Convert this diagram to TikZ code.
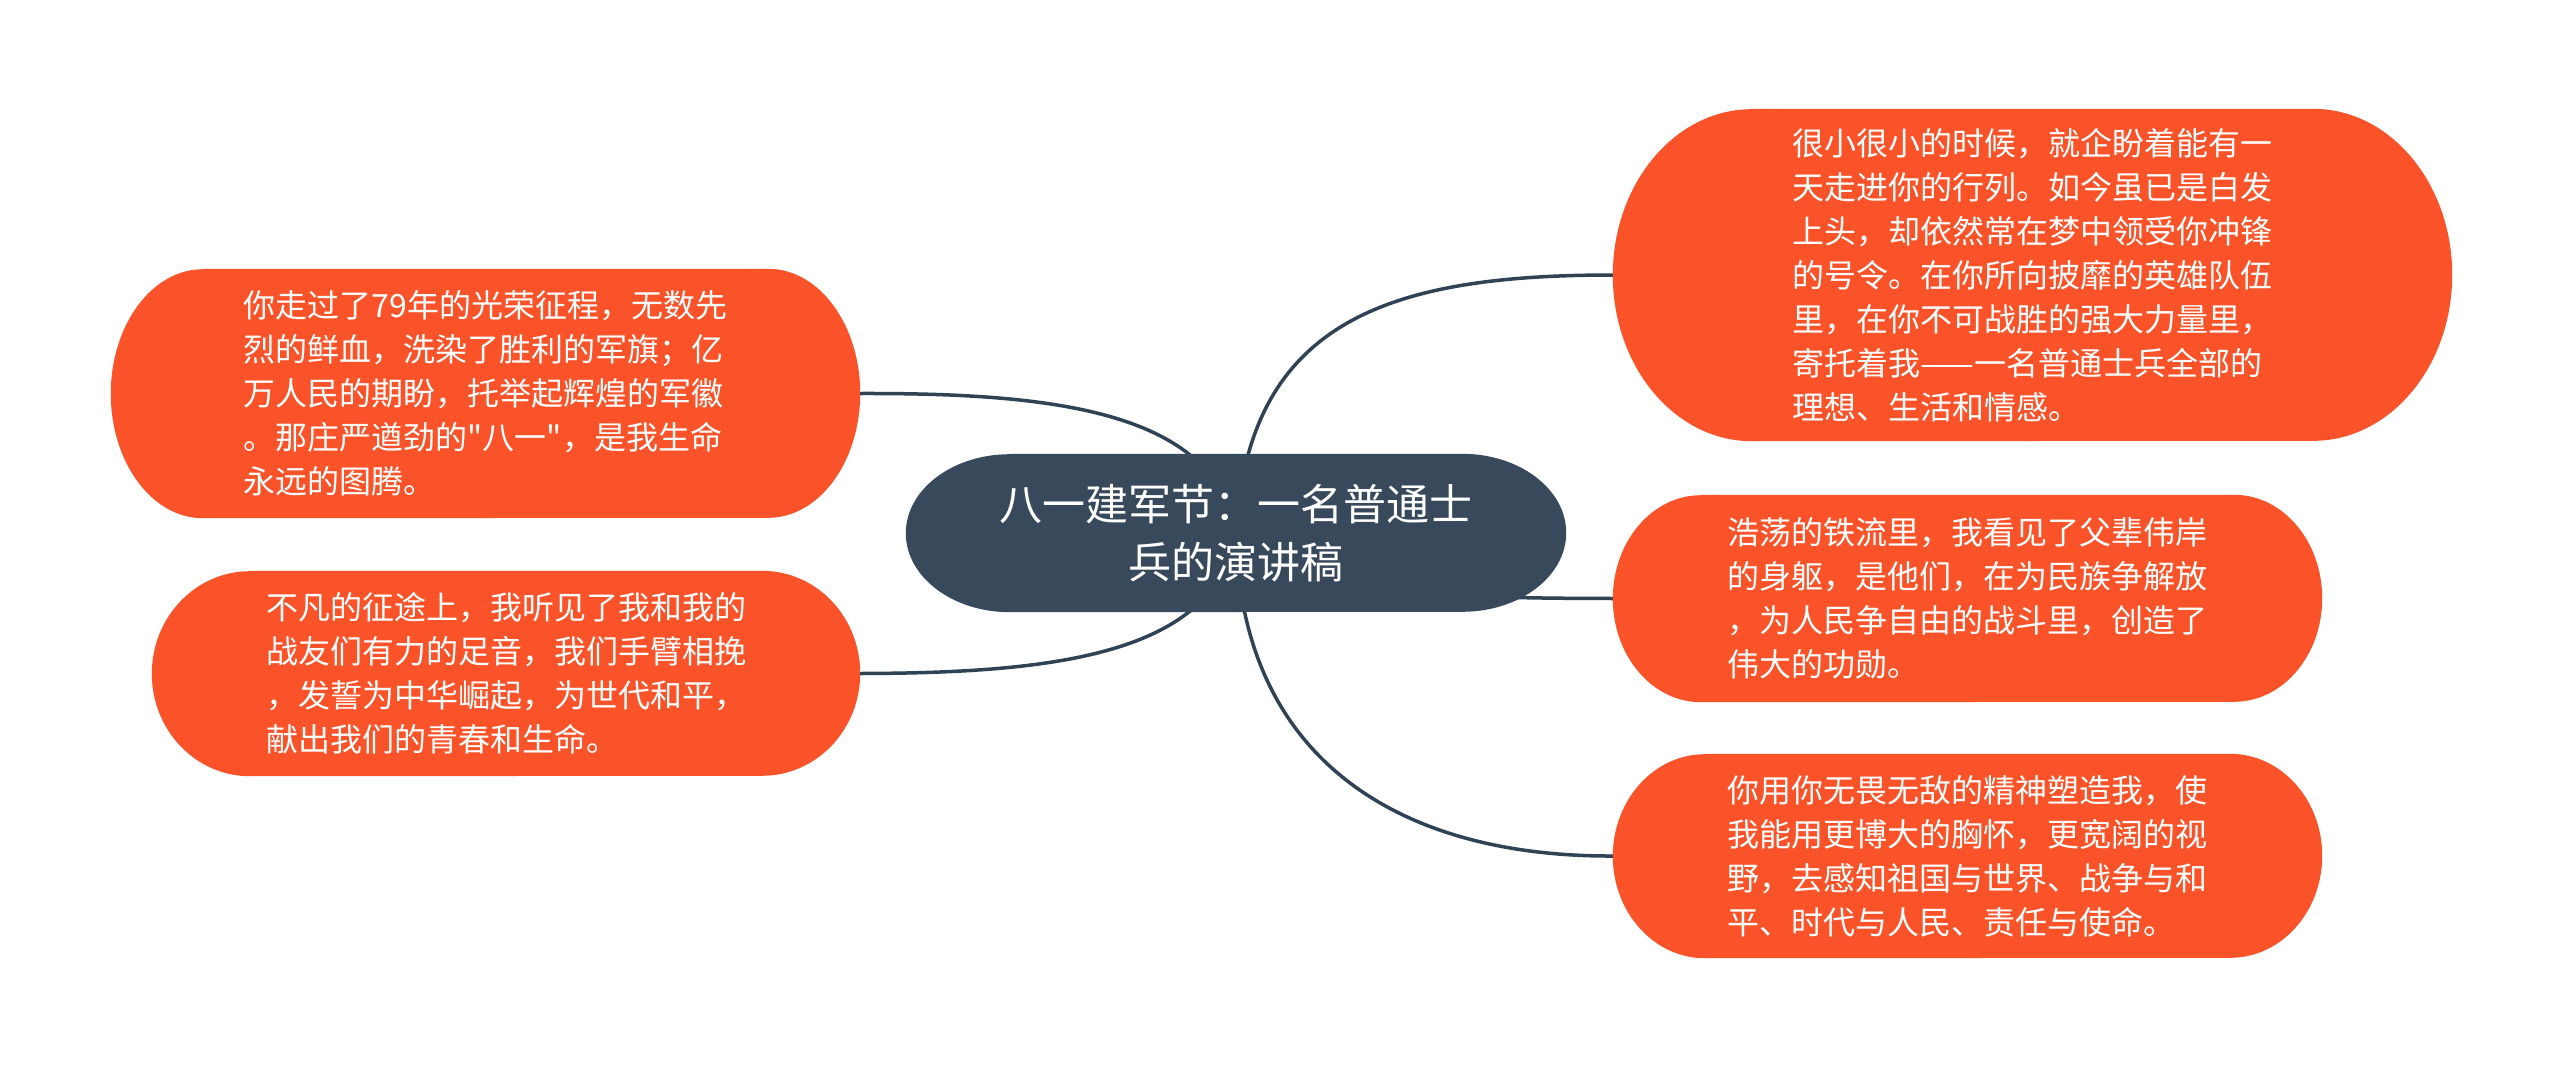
\documentclass[tikz,border=0pt]{standalone}
\usepackage{fontspec}
\newfontfamily\cjkfont{Noto Sans CJK SC}
\usetikzlibrary{backgrounds}
\definecolor{pillred}{HTML}{FA5229}
\definecolor{hubfill}{HTML}{37495B}
\definecolor{linkcol}{HTML}{2F4354}
\tikzset{
  leaf/.style={text=white, font=\cjkfont\fontsize{32}{44}\selectfont, align=left, inner sep=0pt},
  hubnode/.style={text=white, font=\cjkfont\fontsize{43}{58}\selectfont, align=center, inner sep=0pt},
  conn/.style={draw=linkcol, line width=3.5pt},
}
% name, x radius, y radius (half height), colour
\newcommand\pillfill[4]{%
  \fill[#4] ([xshift=#2]#1.north west) -- ([xshift=-#2]#1.north east)
    arc[start angle=90,end angle=-90,x radius=#2,y radius=#3]
    -- ([xshift=#2]#1.south west)
    arc[start angle=270,end angle=90,x radius=#2,y radius=#3] -- cycle;}
\begin{document}
\begin{tikzpicture}[x=1pt,y=-1pt]
\useasboundingbox (0,0) rectangle (2560,1068);

\node[hubnode, minimum width=660pt, minimum height=158pt] (c) at (1236,533)
  {八一建军节：一名普通士\\兵的演讲稿};

\node[leaf, minimum width=749pt, minimum height=249pt] (l1) at (485.5,393.5)
  {你走过了79年的光荣征程，无数先\\
   烈的鲜血，洗染了胜利的军旗；亿\\
   万人民的期盼，托举起辉煌的军徽\\
   。那庄严遒劲的"八一"，是我生命\\
   永远的图腾。};

\node[leaf, minimum width=708pt, minimum height=205pt] (l2) at (506,673.5)
  {不凡的征途上，我听见了我和我的\\
   战友们有力的足音，我们手臂相挽\\
   ，发誓为中华崛起，为世代和平，\\
   献出我们的青春和生命。};

\node[leaf, minimum width=839pt, minimum height=332pt] (r1) at (2032.5,275)
  {很小很小的时候，就企盼着能有一\\
   天走进你的行列。如今虽已是白发\\
   上头，却依然常在梦中领受你冲锋\\
   的号令。在你所向披靡的英雄队伍\\
   里，在你不可战胜的强大力量里，\\
   寄托着我——一名普通士兵全部的\\
   理想、生活和情感。};

\node[leaf, minimum width=709pt, minimum height=207pt] (r2) at (1967.5,598.5)
  {浩荡的铁流里，我看见了父辈伟岸\\
   的身躯，是他们，在为民族争解放\\
   ，为人民争自由的战斗里，创造了\\
   伟大的功勋。};

\node[leaf, minimum width=709pt, minimum height=204pt] (r3) at (1967.5,856)
  {你用你无畏无敌的精神塑造我，使\\
   我能用更博大的胸怀，更宽阔的视\\
   野，去感知祖国与世界、战争与和\\
   平、时代与人民、责任与使命。};

\begin{pgfonlayer}{background}
  \fill[white] (0,0) rectangle (2560,1068);
  \draw[conn] (c.center) .. controls (1248,320) and (1390,275) .. (r1.west);
  \draw[conn] (c.center) .. controls (1300,596) and (1450,598) .. (r2.west);
  \draw[conn] (c.center) .. controls (1240,760) and (1400,857) .. (r3.west);
  \draw[conn] (c.center) .. controls (1215,410) and (1050,393) .. (l1.east);
  \draw[conn] (c.center) .. controls (1215,656) and (1050,673) .. (l2.east);
  \pillfill{c}{104pt}{79pt}{hubfill}
  \pillfill{l1}{92pt}{124.5pt}{pillred}
  \pillfill{l2}{98pt}{102.5pt}{pillred}
  \pillfill{r1}{139pt}{166pt}{pillred}
  \pillfill{r2}{88pt}{103.5pt}{pillred}
  \pillfill{r3}{92pt}{102pt}{pillred}
\end{pgfonlayer}
\end{tikzpicture}
\end{document}
